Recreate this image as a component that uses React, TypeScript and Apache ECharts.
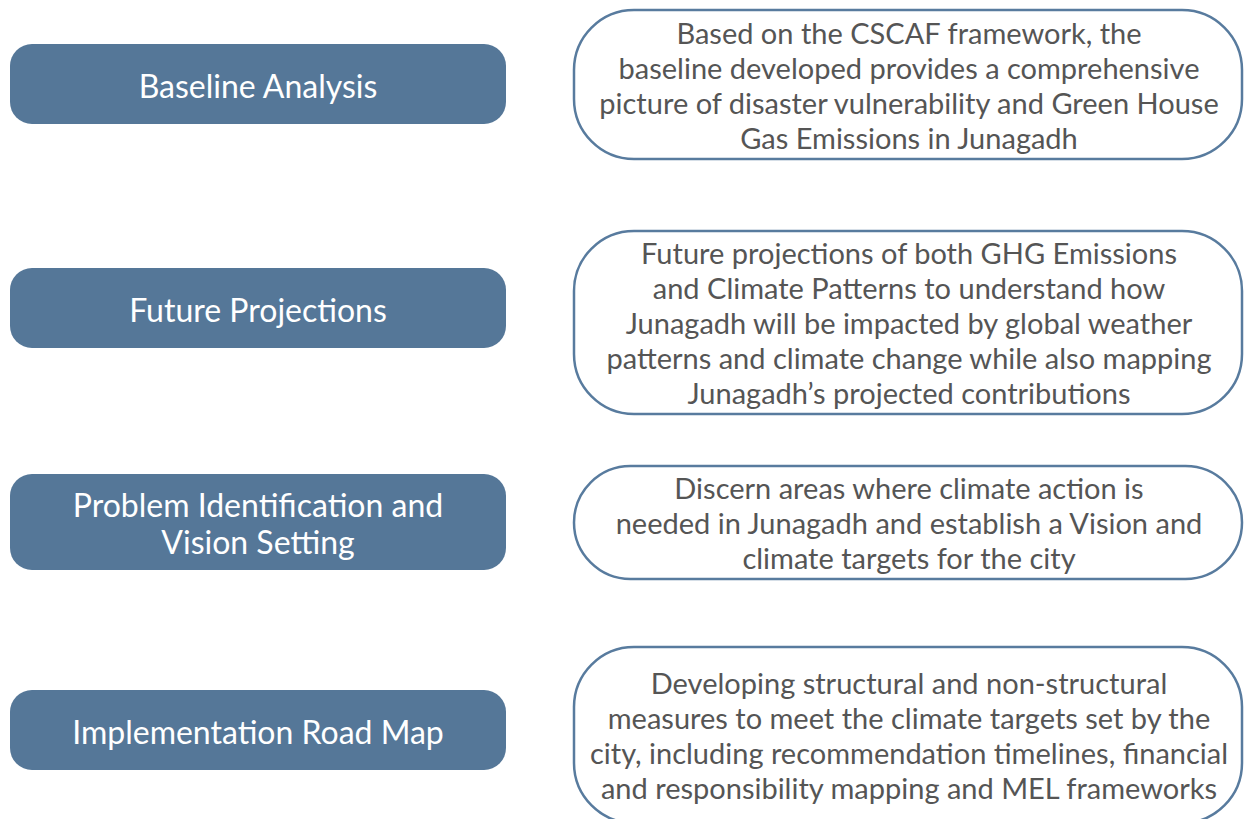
import React, { useEffect, useRef } from "react";
import * as echarts from "echarts";

const stageTitles: string[] = [
  "Baseline Analysis",
  "Future Projections",
  "Problem Identification and\nVision Setting",
  "Implementation Road Map",
];

const stageDescriptions: string[] = [
  "Based on the CSCAF framework, the\nbaseline developed provides a comprehensive\npicture of disaster vulnerability and Green House\nGas Emissions in Junagadh",
  "Future projections of both GHG Emissions\nand Climate Patterns to understand how\nJunagadh will be impacted by global weather\npatterns and climate change while also mapping\nJunagadh\u2019s projected contributions",
  "Discern areas where climate action is\nneeded in Junagadh and establish a Vision and\nclimate targets for the city",
  "Developing structural and non-structural\nmeasures to meet the climate targets set by the\ncity, including recommendation timelines, financial\nand responsibility mapping and MEL frameworks",
];

// layout (pixels)
const leftBoxes = [
  { y: 44, h: 80 },
  { y: 268, h: 80 },
  { y: 474, h: 96 },
  { y: 690, h: 80 },
];
const rightBoxes = [
  { y: 10, h: 149 },
  { y: 231, h: 183 },
  { y: 466, h: 113 },
  { y: 647, h: 176 },
];

export default function App() {
  const ref = useRef<HTMLDivElement>(null);
  useEffect(() => {
    document.body.style.margin = "0";
    const chart = echarts.init(ref.current!, null, { renderer: "svg" });
    const elements: any[] = [];
    const font = "Lato, 'Noto Sans', sans-serif";
    stageTitles.forEach((t, i) => {
      const b = leftBoxes[i];
      elements.push({
        type: "rect",
        shape: { x: 10, y: b.y, width: 496, height: b.h, r: 22 },
        style: { fill: "#557798" },
      });
      elements.push({
        type: "text",
        x: 258,
        y: b.y + b.h / 2 + 1,
        style: {
          text: t,
          fill: "#ffffff",
          font: `32px ${font}`,
          lineHeight: 37,
          align: "center",
          verticalAlign: "middle",
        },
      });
    });
    stageDescriptions.forEach((t, i) => {
      const b = rightBoxes[i];
      elements.push({
        type: "rect",
        shape: { x: 574, y: b.y, width: 668, height: b.h, r: 60 },
        style: { fill: "#ffffff", stroke: "#587b9e", lineWidth: 2.5 },
      });
      elements.push({
        type: "text",
        x: 909,
        y: b.y + b.h / 2,
        style: {
          text: t,
          fill: "#555555",
          font: `29px ${font}`,
          lineHeight: 35,
          align: "center",
          verticalAlign: "middle",
        },
      });
    });
    chart.setOption({
      animation: false,
      backgroundColor: "#ffffff",
      graphic: { elements },
    });
    return () => chart.dispose();
  }, []);
  return <div ref={ref} style={{ width: 1245, height: 819 }} />;
}
